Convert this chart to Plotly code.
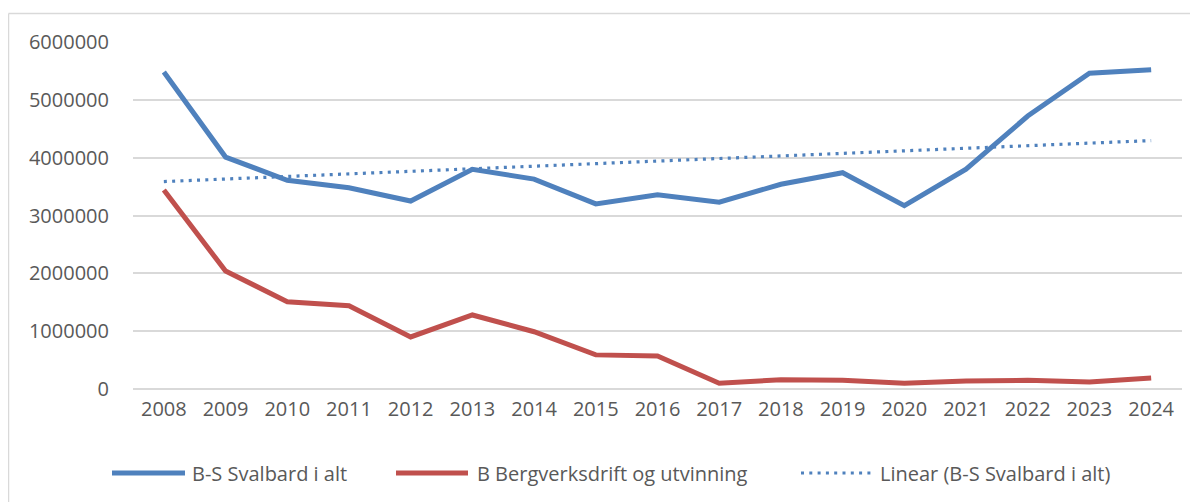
import numpy as np
import plotly.graph_objects as go

years = [str(y) for y in range(2008, 2025)]
svalbard_total = [5480000, 4010000, 3610000, 3480000, 3250000, 3800000, 3630000, 3200000,
                  3360000, 3230000, 3540000, 3740000, 3170000, 3800000, 4720000, 5460000, 5520000]
mining = [3440000, 2040000, 1510000, 1440000, 900000, 1280000, 990000, 590000,
          570000, 100000, 160000, 150000, 100000, 140000, 150000, 120000, 190000]
y_ticks = [0, 1000000, 2000000, 3000000, 4000000, 5000000, 6000000]
series_names = ["B-S Svalbard i alt", "B Bergverksdrift og utvinning", "Linear (B-S Svalbard i alt)"]

# Linear trendline (least squares) of the total series
idx = np.arange(len(years))
slope, intercept = np.polyfit(idx, svalbard_total, 1)
trend = (slope * idx + intercept).tolist()

BLUE = "#4F81BD"
RED = "#C0504D"
TXT = "#595959"
GRID = "#D9D9D9"
FONT = "Open Sans, sans-serif"
DOT = "3px,5.3px"

fig = go.Figure()
fig.add_trace(go.Scatter(x=years, y=svalbard_total, mode="lines", name=series_names[0],
                         line=dict(color=BLUE, width=5)))
fig.add_trace(go.Scatter(x=years, y=mining, mode="lines", name=series_names[1],
                         line=dict(color=RED, width=5)))
fig.add_trace(go.Scatter(x=years, y=trend, mode="lines", name=series_names[2],
                         line=dict(color=BLUE, width=3.2, dash=DOT)))

# figure size (the page adds an 8px body margin)
W, H = 1190, 494
L, R, T, B = 125, 16, 34, 113
pw, ph = W - L - R, H - T - B

def px_x(p):
    return (p - L) / pw

def px_y(p):
    return (H - B - p) / ph

# custom legend (long line samples like the reference)
leg_y = 465
leg_items = [
    (104, 177, 182, BLUE, "solid", 5),
    (388, 460, 467, RED, "solid", 5),
    (793, 863, 870, BLUE, DOT, 3.2),
]
shapes = [
    dict(type="line", xref="paper", yref="paper", x0=px_x(0.5), x1=px_x(W),
         y0=px_y(5.5), y1=px_y(5.5), line=dict(color=GRID, width=1.5)),
    dict(type="line", xref="paper", yref="paper", x0=px_x(0.5), x1=px_x(0.5),
         y0=px_y(5.5), y1=px_y(H), line=dict(color=GRID, width=1.5)),
]
annotations = []
for (x0, x1, tx, col, dash, lw), name in zip(leg_items, series_names):
    shapes.append(dict(type="line", xref="paper", yref="paper", x0=px_x(x0), x1=px_x(x1),
                       y0=px_y(leg_y), y1=px_y(leg_y), line=dict(color=col, width=lw, dash=dash)))
    annotations.append(dict(xref="paper", yref="paper", x=px_x(tx), y=px_y(leg_y),
                            xanchor="left", yanchor="middle", text=name, showarrow=False,
                            font=dict(size=20, color=TXT, family=FONT)))

fig.update_layout(
    width=W, height=H,
    margin=dict(l=L, r=R, t=T, b=B),
    paper_bgcolor="white", plot_bgcolor="white",
    font=dict(family=FONT, color=TXT, size=20),
    showlegend=False,
    xaxis=dict(type="category", range=[-0.5, len(years) - 0.5], showgrid=False,
               showline=False, zeroline=False, ticks="", ticklabelstandoff=6,
               tickfont=dict(size=20, color=TXT)),
    yaxis=dict(range=[0, 6000000], tickvals=y_ticks, ticktext=[str(v) for v in y_ticks],
               showgrid=True, gridcolor=GRID, gridwidth=1.5, zeroline=True,
               zerolinecolor=GRID, zerolinewidth=1.5, showline=False, ticks="",
               ticklabelstandoff=23, tickfont=dict(size=20, color=TXT)),
    shapes=shapes,
    annotations=annotations,
)

fig.write_html("out.html")
